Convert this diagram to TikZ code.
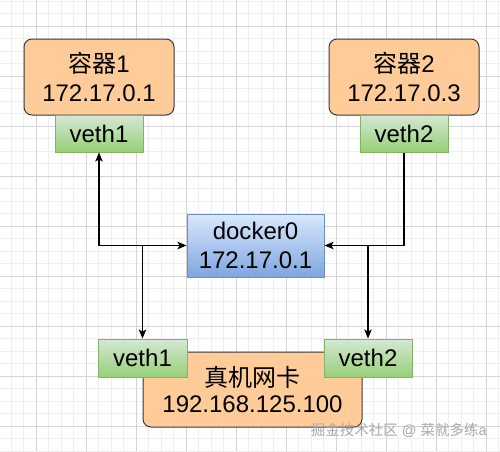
\documentclass[tikz,border=0pt]{standalone}
\usepackage{fontspec}
\setmainfont{Liberation Sans}
\newfontfamily\cjk{Noto Sans CJK SC}
\usetikzlibrary{arrows.meta}
\definecolor{contfill}{HTML}{FFCC99}
\definecolor{contline}{HTML}{36393D}
\definecolor{vethtop}{HTML}{D5E8D4}
\definecolor{vethbot}{HTML}{97D077}
\definecolor{vethline}{HTML}{82B366}
\definecolor{docktop}{HTML}{DAE8FC}
\definecolor{dockbot}{HTML}{7EA6E0}
\definecolor{dockline}{HTML}{6C8EBF}
\definecolor{gridmajor}{HTML}{D4D4D4}
\definecolor{gridminor}{HTML}{EEEEEE}
\definecolor{wmark}{HTML}{A8A8A8}
\tikzset{
  lbl/.style={font=\fontsize{24}{29}\selectfont, align=center, text=black, inner sep=0pt},
  contbox/.style={lbl, rounded corners=8pt, fill=contfill, draw=contline, line width=1pt},
  vethbox/.style={lbl, top color=vethtop, bottom color=vethbot, draw=vethline, line width=1pt},
  dockbox/.style={lbl, top color=docktop, bottom color=dockbot, draw=dockline, line width=1pt},
  conn/.style={line width=1.2pt, draw=black, arrows={-Stealth[length=9pt,width=7.5pt,inset=2pt]}},
  biconn/.style={line width=1.2pt, draw=black, arrows={Stealth[length=9pt,width=7.5pt,inset=2pt]-Stealth[length=9pt,width=7.5pt,inset=2pt]}},
}
\begin{document}
\begin{tikzpicture}[x=1pt,y=-1pt]
\useasboundingbox (0,0) rectangle (500,451);
\fill[white] (0,0) rectangle (500,451);
% grid
\foreach \i in {0,...,40} {
  \draw[gridminor, line width=0.6pt] ({-1.5+12.5*\i},0) -- ({-1.5+12.5*\i},451);
  \draw[gridminor, line width=0.6pt] (0,{1+12.5*\i}) -- (500,{1+12.5*\i});
}
\foreach \i in {0,...,9} {
  \draw[gridmajor, line width=0.8pt] ({36+50*\i},0) -- ({36+50*\i},451);
  \draw[gridmajor, line width=0.8pt] (0,{26+50*\i}) -- (500,{26+50*\i});
}
% containers
\node[contbox, minimum width=150pt, minimum height=76pt] (c1) at (99,77) {{\cjk 容器}1\\172.17.0.1};
\node[contbox, minimum width=150pt, minimum height=76pt] (c2) at (404,77) {{\cjk 容器}2\\172.17.0.3};
\node[vethbox, minimum width=88pt, minimum height=37pt] (v1t) at (99,133.5) {veth1};
\node[vethbox, minimum width=88pt, minimum height=37pt] (v2t) at (404,133.5) {veth2};
% docker0
\node[dockbox, minimum width=137pt, minimum height=63pt] (dock) at (255.5,245.5) {docker0\\172.17.0.1};
% host
\node[contbox, minimum width=219pt, minimum height=75pt, text depth=0pt] (host) at (252.5,389.5) {\raisebox{-3pt}{\cjk 真机网卡}\\192.168.125.100};
\node[vethbox, minimum width=89pt, minimum height=38pt] (v1b) at (142.5,358) {veth1};
\node[vethbox, minimum width=88pt, minimum height=38pt] (v2b) at (368,358) {veth2};
% connectors
\draw[biconn] (v1t.south) |- (dock.west);
\draw[conn] (v2t.south) |- (dock.east);
\coordinate (j1) at (v1b.north |- dock.west);
\coordinate (j2) at (v2b.north |- dock.east);
\draw[conn] (j1) -- (v1b.north);
\draw[conn] (j2) -- (v2b.north);
% watermark
\node[font=\fontsize{14.5}{16}\selectfont, text=wmark, inner sep=0pt, anchor=east] (wm) at (487,430) {{\cjk 掘金技术社区} @ {\cjk 菜就多练}a};
\end{tikzpicture}
\end{document}
